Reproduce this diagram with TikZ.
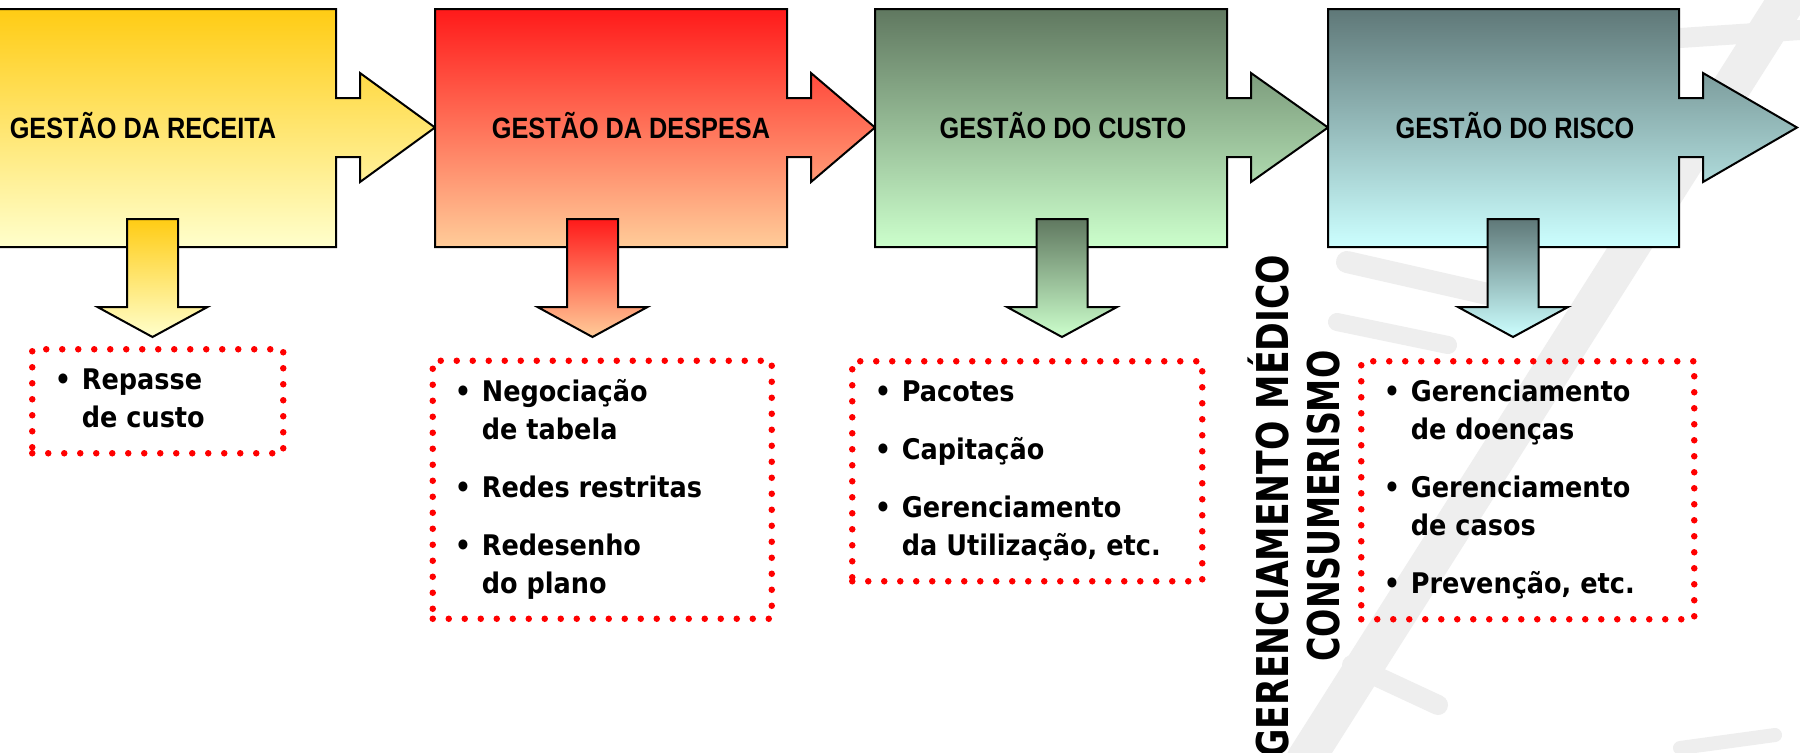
\documentclass[tikz,border=0pt]{standalone}
\usepackage{fontspec}
\setmainfont{DejaVu Sans}
\newfontfamily\headfont{Liberation Sans}[FakeStretch=0.86]
\newfontfamily\itemfont{DejaVu Sans}[FakeStretch=0.9]
\newfontfamily\sidefont{DejaVu Sans}[FakeStretch=0.76]
\newfontfamily\sidefontwide{DejaVu Sans}[FakeStretch=0.79]

\newdimen\px \px=0.5pt

\definecolor{receitaTop}{HTML}{FFCC14}
\definecolor{receitaBot}{HTML}{FFFFCC}
\definecolor{despesaTop}{HTML}{FF1A1A}
\definecolor{despesaBot}{HTML}{FFCC99}
\definecolor{custoTop}{HTML}{607860}
\definecolor{custoBot}{HTML}{CCFFCC}
\definecolor{riscoTop}{HTML}{5F7878}
\definecolor{riscoBot}{HTML}{CCFFFF}

\newcommand{\bul}{\makebox[27\px][l]{•}}
\newcommand{\cont}{\hspace*{27\px}}

\tikzset{%
        stage/.style={
            draw=black,
            line width=2\px
        },
        drop/.style={
            draw=black,
            line width=2\px
        },
        stage title/.style={
            font=\headfont\bfseries\fontsize{14.7}{16}\selectfont,
            anchor=base,
            inner sep=0pt
        },
        frame/.style={
            draw=red,
            line width=6.5\px,
            line cap=round,
            dash pattern=on 0pt off 16\px,
            inner sep=0pt,
            anchor=north west
        },
        item list/.style={
            font=\itemfont\bfseries\fontsize{14.2}{19}\selectfont,
            anchor=base west,
            inner sep=0pt
        },
        side label/.style={
            font=\sidefont\bfseries\fontsize{21.9}{25.5}\selectfont,
            align=center,
            rotate=90,
            inner sep=0pt
        },
        watermark/.style={
            draw=gray!13,
            line cap=round
        },
    }

\begin{document}
\begin{tikzpicture}[x=0.5pt, y=-0.5pt]

        \fill[white] (0,0) rectangle (1800,752);
        \useasboundingbox (0,0) rectangle (1800,752);

        % faint logo in the background
        \draw[watermark, line width=38\px] (1790,-5) -- (1305,760);
        \draw[watermark, line width=20\px] (1680,38) -- (1800,30);
        \draw[watermark, line width=22\px] (1347,262) -- (1492,295);
        \draw[watermark, line width=18\px] (1337,322) -- (1448,345);
        \draw[watermark, line width=20\px] (1352,665) -- (1438,705);
        \draw[watermark, line width=14\px] (1680,748) -- (1775,735);

        \foreach \l/\r/\t/\cx/\ax/\name/\txt [count=\i] in {
            -16/336/435/143/152.5/receita/GESTÃO DA RECEITA,
            435/787/875/631/592.5/despesa/GESTÃO DA DESPESA,
            875/1227/1328/1063/1062/custo/GESTÃO DO CUSTO,
            1328/1679/1797/1515/1513/risco/GESTÃO DO RISCO}
        {
            \draw [stage, top color=\name Top, bottom color=\name Bot]
                (\l,9) -- (\r,9) -- (\r,98) -- (\r+24,98) -- (\r+24,73)
                -- (\t,127.5) -- (\r+24,182) -- (\r+24,157) -- (\r,157)
                -- (\r,247) -- (\l,247) -- cycle;
            \node [stage title] (title-\i) at (\cx,138) {\txt};
            \draw [drop, top color=\name Top, bottom color=\name Bot]
                (\ax-25.5,219) -- (\ax+25.5,219) -- (\ax+25.5,307)
                -- (\ax+55,307) -- (\ax,337) -- (\ax-55,307)
                -- (\ax-25.5,307) -- cycle;
        }

        % dotted frames
        \node [frame, minimum width=251\px, minimum height=104\px] (frame-1) at (29,346) {};
        \node [frame, minimum width=339\px, minimum height=258\px] (frame-2) at (429.5,357.5) {};
        \node [frame, minimum width=350\px, minimum height=220\px] (frame-3) at (849,358) {};
        \node [frame, minimum width=333\px, minimum height=258\px] (frame-4) at (1358,358) {};

        \node [item list] (list-1) at ([shift={(25.5,43)}]frame-1.north west)
            {\begin{tabular}[t]{@{}l@{}}
             \bul Repasse\\ \cont de custo
             \end{tabular}};
        \node [item list] (list-2) at ([shift={(25,43.5)}]frame-2.north west)
            {\begin{tabular}[t]{@{}l@{}}
             \bul Negociação\\ \cont de tabela\\[10pt]
             \bul Redes restritas\\[10pt]
             \bul Redesenho\\ \cont do plano
             \end{tabular}};
        \node [item list] (list-3) at ([shift={(25.5,43)}]frame-3.north west)
            {\begin{tabular}[t]{@{}l@{}}
             \bul Pacotes\\[10pt]
             \bul Capitação\\[10pt]
             \bul Gerenciamento\\ \cont da Utilização, etc.
             \end{tabular}};
        \node [item list] (list-4) at ([shift={(25.5,43)}]frame-4.north west)
            {\begin{tabular}[t]{@{}l@{}}
             \bul Gerenciamento\\ \cont de doenças\\[10pt]
             \bul Gerenciamento\\ \cont de casos\\[10pt]
             \bul Prevenção, etc.
             \end{tabular}};

        \node [side label] (side) at (1294,506)
            {{\sidefontwide\bfseries GERENCIAMENTO MÉDICO}\\CONSUMERISMO};

\end{tikzpicture}
\end{document}
